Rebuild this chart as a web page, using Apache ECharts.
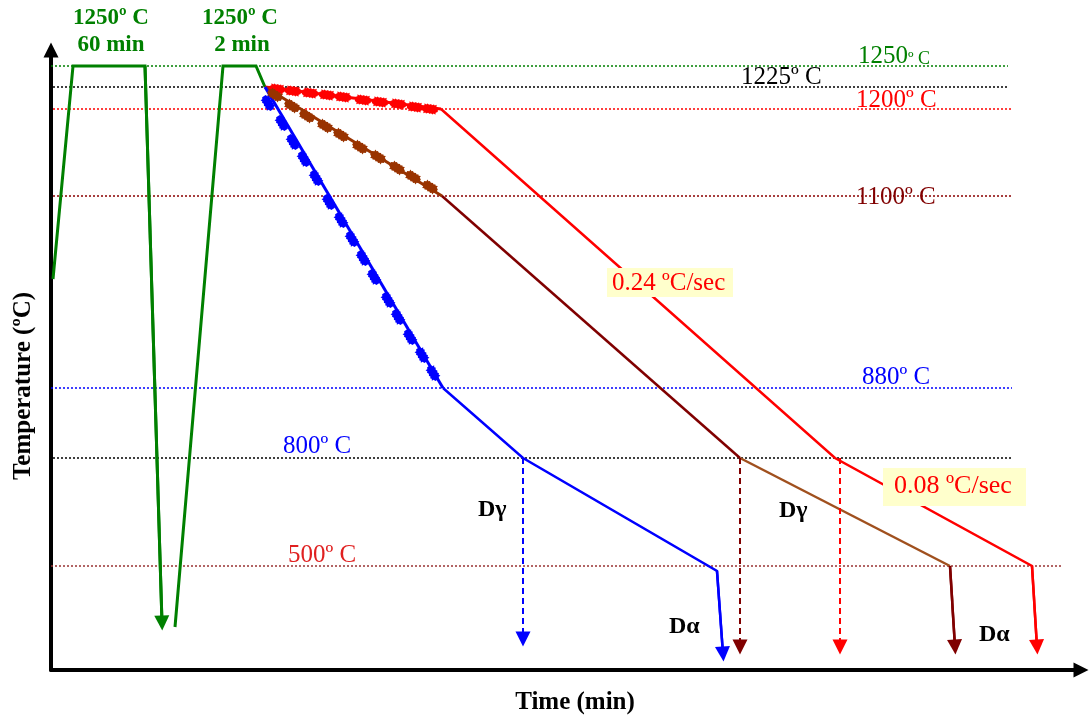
<!DOCTYPE html>
<html>
<head>
<meta charset="utf-8">
<script src="https://cdn.jsdelivr.net/npm/echarts@6/dist/echarts.min.js"></script>
<style>
html, body { margin: 0; padding: 0; background: #fff; }
#main { width: 1089px; height: 721px; }
</style>
</head>
<body>
<div id="main"></div>
<script>
// schematic units: x = time position, y = temperature level (not to scale)
var levelNames = ['1250º C', '1225º C', '1200º C', '1100º C', '880º C', '800º C', '500º C'];
var levelY = [604, 583, 561, 474, 282, 212, 104];
var levelXStart = [0, 2, 2, 2, 0, 2, 0];
var levelXEnd = [957, 957, 961, 961, 961, 962, 1012];
var levelColors = ['#008000', '#000000', '#ff0000', '#8b0000', '#0000ff', '#000000', '#993333'];

// reheating / soaking steps
var soakPath1 = [[2, 391], [22, 604], [94, 604], [111, 47]];
var soakPath2 = [[124, 43], [172, 604], [205, 604], [214, 583]];

// deformation passes (zig-zag marks) and the cooling that follows
var redPass = [[214, 583], [390, 561]];
var redPassMarks = [[226, 581], [242, 579], [259, 577], [276, 575], [292, 573], [312, 570], [329, 568], [347, 566], [364, 563], [379, 561]];
var redCool = [[390, 561], [784, 212], [981, 104], [986, 23]];

var brownPass = [[214, 583], [391, 474]];
var brownPassMarks = [[224, 575], [241, 564], [256, 554], [274, 544], [290, 535], [309, 523], [327, 513], [346, 502], [362, 493], [379, 483]];
var brownCoolA = [[391, 474], [689, 212]];
var brownCoolB = [[689, 212], [899, 104]];
var brownDrop = [[899, 104], [904, 23]];

var bluePass = [[214, 583], [392, 282]];
var bluePassMarks = [[217, 567], [231, 547], [242, 528], [253, 511], [265, 492], [278, 468], [290, 450], [301, 431], [312, 412], [323, 393], [337, 370], [347, 353], [359, 333], [371, 315], [382, 297]];
var blueCool = [[392, 282], [472, 212], [666, 99], [672, 16]];

// dashed drops at the 800 ºC point
var blueDash = [[472, 212], [472, 31]];
var darkRedDash = [[689, 212], [689, 23]];
var redDash = [[789, 212], [789, 23]];

var FONT = '"Liberation Serif", "Times New Roman", serif';
var blob = 'path://M0,3L2,2L2,0L4,1L5,0L7,1L9,0L10,1L12,0L13,1L15,0L15,2L17,3L17,7L15,8L15,10L13,9L12,10L10,9L9,10L7,9L5,10L4,9L2,10L2,8L0,7Z';

function pathSeries(coords, color, width, arrow, dash) {
    var style = { color: color, width: width, type: dash ? [6, 4] : 'solid', opacity: 1 };
    var out = [{
        type: 'lines', coordinateSystem: 'cartesian2d', polyline: true, silent: true,
        lineStyle: style, z: 3,
        data: [{ coords: coords }]
    }];
    if (arrow) {
        out.push({
            type: 'lines', coordinateSystem: 'cartesian2d', silent: true,
            symbol: ['none', 'triangle'], symbolSize: [15, 15],
            lineStyle: style, itemStyle: { color: color }, z: 4,
            data: [{ coords: coords.slice(-2) }]
        });
    }
    return out;
}

function markSeries(points, color, angle) {
    return {
        type: 'scatter', silent: true,
        symbol: blob, symbolSize: [16, 10], symbolRotate: angle,
        itemStyle: { color: color, opacity: 1 }, z: 5,
        data: points
    };
}

var levelData = [];
for (var i = 0; i < levelY.length; i++) {
    levelData.push({
        coords: [[levelXStart[i], levelY[i]], [levelXEnd[i], levelY[i]]],
        lineStyle: { color: levelColors[i] }
    });
}

var chart = echarts.init(document.getElementById('main'));

var series = [{
    type: 'lines', coordinateSystem: 'cartesian2d', silent: true, z: 1,
    lineStyle: { width: 1.5, type: [2, 2], opacity: 1 },
    data: levelData
}];
series = series.concat(
    pathSeries(soakPath1, '#008000', 3, true),
    pathSeries(soakPath2, '#008000', 3, false),
    pathSeries(redPass, '#ff0000', 3, false),
    pathSeries(redCool, '#ff0000', 2.5, true),
    pathSeries(brownPass, '#993300', 3, false),
    pathSeries(brownCoolA, '#800000', 2.5, false),
    pathSeries(brownCoolB, '#a0501e', 2.5, false),
    pathSeries(brownDrop, '#800000', 2.5, true),
    pathSeries(bluePass, '#0000ff', 3, false),
    pathSeries(blueCool, '#0000ff', 2.5, true),
    pathSeries(blueDash, '#0000ff', 2, true, true),
    pathSeries(darkRedDash, '#800000', 2, true, true),
    pathSeries(redDash, '#ff0000', 2, true, true),
    [markSeries(redPassMarks, '#ff0000', -7.5),
     markSeries(brownPassMarks, '#993300', -32),
     markSeries(bluePassMarks, '#0000ff', -59)]
);

var option = {
    animation: false,
    grid: { left: 51, right: 8, top: 50, bottom: 51 },
    xAxis: {
        type: 'value', min: 0, max: 1030,
        axisLine: { show: true, symbol: ['none', 'triangle'], symbolSize: [15, 15], lineStyle: { color: '#000', width: 4 } },
        axisTick: { show: false }, axisLabel: { show: false }, splitLine: { show: false }
    },
    yAxis: {
        type: 'value', min: 0, max: 620,
        axisLine: { show: true, symbol: ['none', 'triangle'], symbolSize: [15, 15], lineStyle: { color: '#000', width: 4 } },
        axisTick: { show: false }, axisLabel: { show: false }, splitLine: { show: false }
    },
    series: series,
    graphic: [
        // axis titles
        { type: 'text', x: 24, y: 386, rotation: Math.PI / 2, style: { text: 'Temperature (ºC)', font: 'bold 25px ' + FONT, fill: '#000', align: 'center', verticalAlign: 'middle' } },
        { type: 'text', x: 575, y: 703, style: { text: 'Time (min)', font: 'bold 25px ' + FONT, fill: '#000', align: 'center', verticalAlign: 'middle' } },
        // soak labels
        { type: 'text', x: 111, y: 18, style: { text: '1250º C', font: 'bold 23px ' + FONT, fill: '#008000', align: 'center', verticalAlign: 'middle' } },
        { type: 'text', x: 111, y: 45, style: { text: '60 min', font: 'bold 23px ' + FONT, fill: '#008000', align: 'center', verticalAlign: 'middle' } },
        { type: 'text', x: 240, y: 18, style: { text: '1250º C', font: 'bold 23px ' + FONT, fill: '#008000', align: 'center', verticalAlign: 'middle' } },
        { type: 'text', x: 242, y: 45, style: { text: '2 min', font: 'bold 23px ' + FONT, fill: '#008000', align: 'center', verticalAlign: 'middle' } },
        // level labels
        { type: 'text', x: 858, y: 56, style: { text: '{a|1250}{b|º C}', rich: { a: { font: '25px ' + FONT, fill: '#008000' }, b: { font: '18px ' + FONT, fill: '#008000', padding: [6, 0, 0, 0] } }, verticalAlign: 'middle' } },
        { type: 'text', x: 741, y: 77, style: { text: levelNames[1], font: '25px ' + FONT, fill: '#000', verticalAlign: 'middle' } },
        { type: 'text', x: 856, y: 100, style: { text: levelNames[2], font: '25px ' + FONT, fill: '#ff0000', verticalAlign: 'middle' } },
        { type: 'text', x: 856, y: 197, style: { text: levelNames[3], font: '25px ' + FONT, fill: '#800000', verticalAlign: 'middle' } },
        { type: 'text', x: 862, y: 377, style: { text: levelNames[4], font: '25px ' + FONT, fill: '#0000ff', verticalAlign: 'middle' } },
        { type: 'text', x: 283, y: 446, style: { text: levelNames[5], font: '25px ' + FONT, fill: '#0000ff', verticalAlign: 'middle' } },
        { type: 'text', x: 288, y: 555, style: { text: levelNames[6], font: '25px ' + FONT, fill: '#e02020', verticalAlign: 'middle' } },
        // cooling rate boxes
        { type: 'rect', shape: { x: 607, y: 268, width: 126, height: 29 }, style: { fill: '#ffffcc' }, z: 10 },
        { type: 'text', x: 612, y: 283, z: 11, style: { text: '0.24 ºC/sec', font: '25px ' + FONT, fill: '#ff0000', verticalAlign: 'middle' } },
        { type: 'rect', shape: { x: 883, y: 468, width: 143, height: 38 }, style: { fill: '#ffffcc' }, z: 10 },
        { type: 'text', x: 894, y: 486, z: 11, style: { text: '0.08 ºC/sec', font: '26px ' + FONT, fill: '#ff0000', verticalAlign: 'middle' } },
        // grain size notes
        { type: 'text', x: 478, y: 510, style: { text: 'Dγ', font: 'bold 24px ' + FONT, fill: '#000', verticalAlign: 'middle' } },
        { type: 'text', x: 779, y: 511, style: { text: 'Dγ', font: 'bold 24px ' + FONT, fill: '#000', verticalAlign: 'middle' } },
        { type: 'text', x: 669, y: 627, style: { text: 'Dα', font: 'bold 24px ' + FONT, fill: '#000', verticalAlign: 'middle' } },
        { type: 'text', x: 979, y: 635, style: { text: 'Dα', font: 'bold 24px ' + FONT, fill: '#000', verticalAlign: 'middle' } }
    ]
};

chart.setOption(option);
</script>
</body>
</html>
